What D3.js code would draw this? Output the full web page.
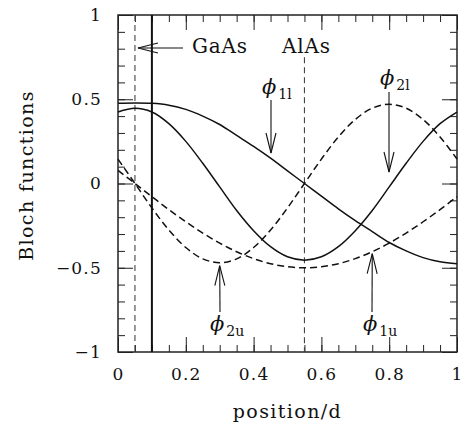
<!DOCTYPE html>
<html>
<head>
<meta charset="utf-8">
<script src="https://cdn.jsdelivr.net/npm/d3@7"></script>
<style>
body { margin: 0; background: #fff; }
text { font-family: "DejaVu Serif", serif; fill: #111; }
</style>
</head>
<body>
<svg></svg>
<script>
// positions along the period (x/d)
const xs = [0, 0.05, 0.1, 0.15, 0.2, 0.25, 0.3, 0.35, 0.4, 0.45, 0.5,
            0.55, 0.6, 0.65, 0.7, 0.75, 0.8, 0.85, 0.9, 0.95, 1]

// Bloch functions
const phi1l = [0.476, 0.478, 0.476, 0.465, 0.44, 0.40, 0.35, 0.285, 0.22, 0.15, 0.075,
               0, -0.075, -0.15, -0.22, -0.285, -0.35, -0.40, -0.44, -0.465, -0.476]
const phi2l = [0.424, 0.446, 0.424, 0.355, 0.25, 0.12, -0.02, -0.16, -0.28, -0.375, -0.435,
               -0.455, -0.435, -0.375, -0.28, -0.16, -0.02, 0.12, 0.25, 0.355, 0.424]
const phi2u = [0.145, 0, -0.145, -0.276, -0.38, -0.447, -0.47, -0.447, -0.38, -0.276, -0.145,
               0, 0.145, 0.276, 0.38, 0.447, 0.47, 0.447, 0.38, 0.276, 0.145]
const phi1u = [0.078, 0, -0.078, -0.155, -0.227, -0.294, -0.354, -0.405, -0.446, -0.476, -0.494,
               -0.5, -0.494, -0.476, -0.446, -0.405, -0.354, -0.294, -0.227, -0.155, -0.078]

const xMajor = [0, 0.2, 0.4, 0.6, 0.8, 1]
const xMinor = d3.range(0, 1.0001, 0.05)
const yMajor = [-1, -0.5, 0, 0.5, 1]
const yMinor = d3.range(-1, 1.0001, 0.1)

const margin = {left: 118, top: 15, right: 8, bottom: 76}
const width = 465 - margin.left - margin.right
const height = 428 - margin.top - margin.bottom

const svg = d3.select("svg")
    .attr("width", 465)
    .attr("height", 428)

const g = svg.append("g")
    .attr("transform", `translate(${margin.left},${margin.top})`)

const x = d3.scaleLinear().domain([0, 1]).range([0, width])
const y = d3.scaleLinear().domain([-1, 1]).range([height, 0])

const fmt = d => d < 0 ? "\u2212" + Math.abs(d) : String(d)

// ticks, all pointing inwards
function ticks(axis, vals, size, labels, pad) {
    return axis.tickValues(vals).tickSizeInner(-size).tickSizeOuter(0)
        .tickPadding(pad || 3).tickFormat(labels ? fmt : "")
}

// minor ticks on all four sides
const minorAxes = [
    [d3.axisBottom(x), `translate(0,${height})`, xMinor],
    [d3.axisTop(x), "translate(0,0)", xMinor],
    [d3.axisLeft(y), "translate(0,0)", yMinor],
    [d3.axisRight(y), `translate(${width},0)`, yMinor]
]
minorAxes.forEach(([ax, tr, vals]) => {
    g.append("g").attr("transform", tr).call(ticks(ax, vals, 7, false))
})

// major ticks + labels
const gx = g.append("g").attr("transform", `translate(0,${height})`)
    .call(ticks(d3.axisBottom(x), xMajor, 15, true, 16))
const gy = g.append("g")
    .call(ticks(d3.axisLeft(y), yMajor, 15, true, 16))
g.append("g").call(ticks(d3.axisTop(x), xMajor, 15, false))
g.append("g").attr("transform", `translate(${width},0)`)
    .call(ticks(d3.axisRight(y), yMajor, 15, false))
g.selectAll(".domain").remove()
g.selectAll(".tick line").attr("stroke", "#222")
g.selectAll(".tick text").attr("font-size", 17).attr("letter-spacing", 1.2)
    .attr("font-family", "DejaVu Serif").attr("fill", "#111")
gx.selectAll(".tick text").attr("dy", "0.72em")

// frame
g.append("rect")
    .attr("width", width).attr("height", height)
    .attr("fill", "none").attr("stroke", "#222").attr("stroke-width", 1.5)

// layer boundaries
g.append("line")
    .attr("x1", x(0.05)).attr("x2", x(0.05)).attr("y1", 0).attr("y2", height)
    .attr("stroke", "#444").attr("stroke-width", 1.1).attr("stroke-dasharray", "6,4")
g.append("line")
    .attr("x1", x(0.1)).attr("x2", x(0.1)).attr("y1", 0).attr("y2", height)
    .attr("stroke", "#111").attr("stroke-width", 2)
g.append("line")
    .attr("x1", x(0.55)).attr("x2", x(0.55)).attr("y1", y(0.75)).attr("y2", height)
    .attr("stroke", "#444").attr("stroke-width", 1.1).attr("stroke-dasharray", "6,4")

// curves
const line = vals => d3.line()
    .x((d, i) => x(xs[i]))
    .y(d => y(d))
    .curve(d3.curveCatmullRom)(vals)

const series = [
    [phi1l, null], [phi2l, null], [phi2u, "7,4"], [phi1u, "7,4"]
]
series.forEach(([vals, dash]) => {
    g.append("path")
        .attr("d", line(vals))
        .attr("fill", "none")
        .attr("stroke", "#111")
        .attr("stroke-width", 1.5)
        .attr("stroke-dasharray", dash)
})

// arrows with open heads
function arrow(x1, y1, x2, y2) {
    const a = Math.atan2(y2 - y1, x2 - x1)
    const L = 20, w = 5
    const bx = x2 - L * Math.cos(a), by = y2 - L * Math.sin(a)
    const px = -Math.sin(a) * w, py = Math.cos(a) * w
    g.append("line").attr("x1", x1).attr("y1", y1).attr("x2", x2).attr("y2", y2)
        .attr("stroke", "#111").attr("stroke-width", 1.1)
    g.append("path")
        .attr("d", `M${bx + px},${by + py}L${x2},${y2}L${bx - px},${by - py}`)
        .attr("fill", "none").attr("stroke", "#111").attr("stroke-width", 1.1)
}

// GaAs / AlAs labels
g.append("text").attr("x", 192 - margin.left).attr("y", 53 - margin.top)
    .attr("font-size", 20).attr("letter-spacing", 0.8).text("GaAs")
g.append("text").attr("x", 282 - margin.left).attr("y", 53 - margin.top)
    .attr("font-size", 20).attr("letter-spacing", 0.8).text("AlAs")
arrow(183 - margin.left, 48 - margin.top, x(0.05) + 3, 48 - margin.top)

// phi labels
function phiLabel(px, py, sub) {
    const t = g.append("text").attr("x", px).attr("y", py)
        .attr("font-size", 21).attr("font-style", "italic")
    t.append("tspan").text("\u03d5")
    t.append("tspan").attr("font-size", 14).attr("font-style", "normal")
        .attr("dy", 5).attr("dx", 2).text(sub)
}
phiLabel(262 - margin.left, 94 - margin.top, "1l")
arrow(271 - margin.left, 100 - margin.top, 271 - margin.left, 153 - margin.top)
phiLabel(380 - margin.left, 85 - margin.top, "2l")
arrow(389 - margin.left, 92 - margin.top, 389 - margin.left, 172 - margin.top)
phiLabel(210 - margin.left, 331 - margin.top, "2u")
arrow(220 - margin.left, 312 - margin.top, x(0.3), y(-0.47) + 3)
phiLabel(363 - margin.left, 331 - margin.top, "1u")
arrow(372 - margin.left, 312 - margin.top, x(0.75), y(-0.405) + 2)

// axis titles
svg.append("text")
    .attr("transform", `translate(33,${margin.top + height / 2 - 8}) rotate(-90)`)
    .attr("text-anchor", "middle")
    .attr("font-size", 19).attr("letter-spacing", 1.4)
    .text("Bloch functions")
svg.append("text")
    .attr("x", margin.left + width / 2).attr("y", 418)
    .attr("text-anchor", "middle")
    .attr("font-size", 19).attr("letter-spacing", 1.4)
    .text("position/d")
</script>
</body>
</html>
